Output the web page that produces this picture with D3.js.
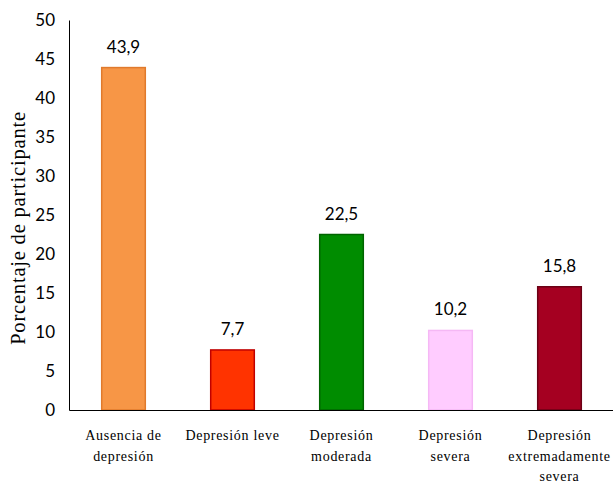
<!DOCTYPE html>
<html>
<head>
<meta charset="utf-8">
<script src="https://cdn.jsdelivr.net/npm/d3@7"></script>
<style>
  body { margin: 0; background: #fff; }
  svg { display: block; }
</style>
</head>
<body>
<svg id="chart" width="613" height="485"></svg>
<script>
// Distribution of depression levels among participants
const categories = [
  ["Ausencia de", "depresión"],
  ["Depresión leve"],
  ["Depresión", "moderada"],
  ["Depresión", "severa"],
  ["Depresión", "extremadamente", "severa"]
];
const values = [43.9, 7.7, 22.5, 10.2, 15.8];
const valueLabels = ["43,9", "7,7", "22,5", "10,2", "15,8"];
const yTicks = [0, 5, 10, 15, 20, 25, 30, 35, 40, 45, 50];
const fills = ["#F79646", "#FF3300", "#008C00", "#FFCCFF", "#A50021"];
const strokes = ["#E07A2C", "#C00000", "#006400", "#F5B8F5", "#6B0015"];

const svg = d3.select("#chart");
const margin = { left: 69, right: 0, top: 20, bottom: 75 };
const W = 613, H = 485;
const numFont = "Lato, 'Open Sans', sans-serif";
const serifFont = "'Liberation Serif', serif";

const x = d3.scaleBand()
  .domain(d3.range(values.length))
  .range([margin.left, W - margin.right + 1])
  .paddingInner(0.6)
  .paddingOuter(0.3);

const y = d3.scaleLinear()
  .domain([0, 50])
  .range([H - margin.bottom, margin.top]);

// Bars
svg.selectAll("rect.bar")
  .data(values)
  .join("rect")
  .attr("class", "bar")
  .attr("x", (d, i) => x(i))
  .attr("width", x.bandwidth())
  .attr("y", d => y(d))
  .attr("height", d => y(0) - y(d))
  .attr("fill", (d, i) => fills[i])
  .attr("stroke", (d, i) => strokes[i])
  .attr("stroke-width", 1.5);

// Value labels
svg.selectAll("text.val")
  .data(values)
  .join("text")
  .attr("class", "val")
  .attr("x", (d, i) => x(i) + x.bandwidth() / 2)
  .attr("y", d => y(d) - 15)
  .attr("text-anchor", "middle")
  .attr("font-family", numFont)
  .attr("font-size", 17)
  .attr("fill", "#000")
  .text((d, i) => valueLabels[i]);

// Y axis
const yAxis = d3.axisLeft(y).tickValues(yTicks).tickSize(0).tickPadding(14);
const gy = svg.append("g")
  .attr("transform", `translate(${margin.left},0)`)
  .call(yAxis);
gy.select(".domain").attr("stroke", "#000").attr("stroke-width", 1);
gy.selectAll("text")
  .attr("font-family", numFont)
  .attr("font-size", 17)
  .attr("fill", "#000");

// X axis
const xAxis = d3.axisBottom(x).tickSize(0).tickFormat("");
const gx = svg.append("g")
  .attr("transform", `translate(0,${y(0)})`)
  .call(xAxis);
gx.select(".domain").attr("stroke", "#000").attr("stroke-width", 1);

// Category labels (multi-line)
const catG = svg.append("g")
  .attr("font-family", serifFont)
  .attr("font-size", 14)
  .attr("fill", "#000")
  .attr("text-anchor", "middle");
categories.forEach((lines, i) => {
  const t = catG.append("text")
    .attr("x", x(i) + x.bandwidth() / 2)
    .attr("y", y(0) + 30);
  lines.forEach((ln, j) => {
    t.append("tspan")
      .attr("x", x(i) + x.bandwidth() / 2)
      .attr("dy", j === 0 ? 0 : 20.5)
      .attr("letter-spacing", 0.7)
      .text(ln);
  });
});

// Y axis title
svg.append("text")
  .attr("transform", `translate(25,228) rotate(-90)`)
  .attr("text-anchor", "middle")
  .attr("font-family", serifFont)
  .attr("font-size", 20.5)
  .attr("letter-spacing", 0.8)
  .attr("fill", "#000")
  .text("Porcentaje de participante");
</script>
</body>
</html>
